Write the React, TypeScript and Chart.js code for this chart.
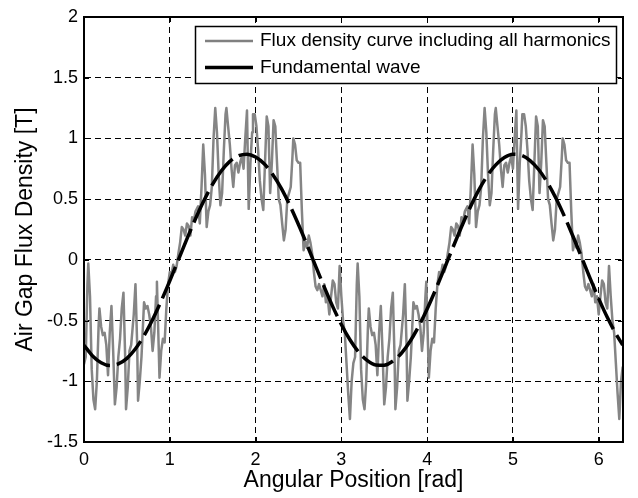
import React, { useEffect, useRef } from "react";
import { Chart, registerables } from "chart.js";

Chart.register(...registerables);

// Flux density curve including all harmonics (first period, 0..pi)
const angleA = [0.00,0.02,0.04,0.05,0.07,0.09,0.11,0.13,0.15,0.17,0.18,0.20,0.22,0.24,0.26,0.28,0.30,0.32,0.34,0.36,0.38,0.40,0.42,0.44,0.46,0.48,0.49,0.51,0.53,0.55,0.58,0.60,0.62,0.63,0.65,0.67,0.69,0.70,0.72,0.74,0.76,0.78,0.80,0.82,0.84,0.85,0.87,0.88,0.90,0.92,0.94,0.96,0.98,1.00,1.02,1.04,1.06,1.08,1.10,1.12,1.14,1.16,1.18,1.20,1.22,1.24,1.26,1.28,1.30,1.33,1.35,1.37,1.39,1.41,1.43,1.45,1.47,1.49,1.51,1.53,1.55,1.57,1.59,1.61,1.63,1.65,1.66,1.68,1.70,1.72,1.74,1.76,1.78,1.80,1.82,1.84,1.86,1.88,1.90,1.92,1.94,1.96,1.97,1.99,2.01,2.03,2.05,2.07,2.09,2.11,2.13,2.15,2.17,2.19,2.21,2.23,2.25,2.27,2.29,2.31,2.33,2.35,2.37,2.39,2.41,2.43,2.44,2.46,2.48,2.50,2.52,2.54,2.56,2.58,2.60,2.62,2.64,2.66,2.68,2.70,2.72,2.74,2.76,2.78,2.80,2.82,2.84,2.86,2.88,2.90,2.92,2.94,2.96,2.98,3.00,3.02,3.04,3.06,3.08,3.10,3.12,3.14];
const fluxA = [-0.86,-0.80,-0.20,-0.03,-0.30,-0.90,-1.15,-1.23,-1.00,-0.55,-0.40,-0.55,-0.62,-0.60,-0.70,-0.95,-0.60,-0.38,-0.75,-1.19,-1.05,-0.80,-0.65,-0.40,-0.27,-0.80,-1.23,-1.05,-0.75,-0.70,-0.45,-0.20,-0.70,-1.16,-1.00,-0.80,-0.50,-0.35,-0.40,-0.38,-0.45,-0.55,-0.75,-0.60,-0.30,-0.18,-0.70,-0.97,-0.75,-0.65,-0.68,-0.40,-0.20,-0.10,-0.12,-0.04,-0.10,-0.05,0.05,0.14,0.27,0.25,0.20,0.30,0.28,0.20,0.35,0.32,0.40,0.44,0.30,0.60,0.95,0.70,0.27,0.40,0.45,0.60,1.00,1.25,1.05,0.70,0.45,0.55,0.90,1.20,1.25,1.10,0.95,0.75,0.60,0.78,0.80,0.72,0.80,0.85,0.75,1.00,1.23,0.42,0.80,1.05,1.20,1.20,1.10,0.90,0.65,0.50,0.41,0.80,1.18,1.10,0.55,0.80,1.15,1.10,0.80,0.50,0.45,0.30,0.16,0.25,0.50,0.55,0.60,0.85,1.00,0.95,0.82,0.80,0.80,0.40,0.08,0.15,0.10,0.20,0.14,0.05,-0.10,-0.22,-0.25,-0.20,-0.25,-0.30,-0.20,-0.35,-0.30,-0.45,-0.30,-0.17,-0.20,-0.35,-0.40,-0.05,-0.30,-0.50,-0.60,-0.85,-1.10,-1.31,-1.00,-0.85];

// second period (pi..2pi)
const angleB = [3.16,3.18,3.19,3.21,3.23,3.25,3.27,3.29,3.31,3.32,3.34,3.36,3.38,3.40,3.42,3.44,3.46,3.48,3.50,3.52,3.54,3.56,3.58,3.60,3.62,3.63,3.65,3.67,3.69,3.72,3.74,3.76,3.77,3.79,3.81,3.83,3.84,3.86,3.88,3.90,3.92,3.94,3.96,3.98,3.99,4.01,4.02,4.04,4.06,4.08,4.10,4.12,4.14,4.16,4.18,4.20,4.22,4.24,4.26,4.28,4.30,4.32,4.34,4.36,4.38,4.40,4.42,4.44,4.47,4.49,4.51,4.53,4.55,4.57,4.59,4.61,4.63,4.65,4.67,4.69,4.71,4.73,4.75,4.77,4.79,4.80,4.82,4.84,4.86,4.88,4.90,4.92,4.94,4.96,4.98,5.00,5.02,5.04,5.06,5.08,5.10,5.11,5.13,5.15,5.17,5.19,5.21,5.23,5.25,5.27,5.29,5.31,5.33,5.35,5.37,5.39,5.41,5.43,5.45,5.47,5.49,5.51,5.53,5.55,5.57,5.58,5.60,5.62,5.64,5.66,5.68,5.70,5.72,5.74,5.76,5.78,5.80,5.82,5.84,5.86,5.88,5.90,5.92,5.94,5.96,5.98,6.00,6.02,6.04,6.06,6.08,6.10,6.12,6.14,6.16,6.18,6.20,6.22,6.24,6.26,6.28];
const fluxB = [-0.80,-0.20,-0.03,-0.30,-0.90,-1.15,-1.23,-1.00,-0.55,-0.40,-0.55,-0.62,-0.60,-0.70,-0.95,-0.60,-0.38,-0.75,-1.19,-1.05,-0.80,-0.65,-0.40,-0.27,-0.80,-1.23,-1.05,-0.75,-0.70,-0.45,-0.20,-0.70,-1.16,-1.00,-0.80,-0.50,-0.35,-0.40,-0.38,-0.45,-0.55,-0.75,-0.60,-0.30,-0.18,-0.70,-0.97,-0.75,-0.65,-0.68,-0.40,-0.20,-0.10,-0.12,-0.04,-0.10,-0.05,0.05,0.14,0.27,0.25,0.20,0.30,0.28,0.20,0.35,0.32,0.40,0.44,0.30,0.60,0.95,0.70,0.27,0.40,0.45,0.60,1.00,1.25,1.05,0.70,0.45,0.55,0.90,1.20,1.25,1.10,0.95,0.75,0.60,0.78,0.80,0.72,0.80,0.85,0.75,1.00,1.23,0.42,0.80,1.05,1.20,1.20,1.10,0.90,0.65,0.50,0.41,0.80,1.18,1.10,0.55,0.80,1.15,1.10,0.80,0.50,0.45,0.30,0.16,0.25,0.50,0.55,0.60,0.85,1.00,0.95,0.82,0.80,0.80,0.40,0.08,0.15,0.10,0.20,0.14,0.05,-0.10,-0.22,-0.25,-0.20,-0.25,-0.30,-0.20,-0.35,-0.30,-0.45,-0.30,-0.17,-0.20,-0.35,-0.40,-0.05,-0.30,-0.50,-0.60,-0.85,-1.10,-1.31,-1.00,-0.88];

// Fundamental wave
const angleFund = [0.0,0.1,0.2,0.3,0.4,0.5,0.6,0.7,0.8,0.9,1.0,1.1,1.2,1.3,1.4,1.5,1.6,1.7,1.8,1.9,2.0,2.1,2.2,2.3,2.4,2.5,2.6,2.7,2.8,2.9,3.0,3.1,3.2,3.3,3.4,3.5,3.6,3.7,3.8,3.9,4.0,4.1,4.2,4.3,4.4,4.5,4.6,4.7,4.8,4.9,5.0,5.1,5.2,5.3,5.4,5.5,5.6,5.7,5.8,5.9,6.0,6.1,6.2,6.28];
const fluxFund = [-0.703,-0.791,-0.847,-0.870,-0.857,-0.811,-0.732,-0.624,-0.491,-0.339,-0.173,0.0,0.173,0.339,0.491,0.624,0.732,0.811,0.857,0.870,0.847,0.791,0.703,0.588,0.448,0.291,0.123,-0.051,-0.222,-0.385,-0.532,-0.658,-0.758,-0.828,-0.865,-0.867,-0.834,-0.769,-0.672,-0.549,-0.404,-0.243,-0.072,0.101,0.271,0.430,0.572,0.691,0.782,0.842,0.869,0.861,0.818,0.744,0.639,0.509,0.359,0.194,0.022,-0.152,-0.319,-0.473,-0.609,-0.701];

const legendLabels = ["Flux density curve including all harmonics", "Fundamental wave"];
const xTitle = "Angular Position [rad]";
const yTitle = "Air Gap Flux Density [T]";

const FONT = "'Liberation Sans', Arial, sans-serif";

const framePlugin = {
  id: "frameAndLegend",
  afterDraw(chart: any) {
    const { ctx, chartArea: a, scales } = chart;
    ctx.save();
    ctx.setLineDash([]);
    ctx.strokeStyle = "#000";
    ctx.lineWidth = 1;
    const tl = 5;
    ctx.beginPath();
    scales.x.ticks.forEach((t: any) => {
      const px = Math.round(scales.x.getPixelForValue(t.value)) + 0.5;
      ctx.moveTo(px, a.bottom); ctx.lineTo(px, a.bottom - tl);
      ctx.moveTo(px, a.top); ctx.lineTo(px, a.top + tl);
    });
    scales.y.ticks.forEach((t: any) => {
      const py = Math.round(scales.y.getPixelForValue(t.value)) + 0.5;
      ctx.moveTo(a.left, py); ctx.lineTo(a.left + tl, py);
      ctx.moveTo(a.right, py); ctx.lineTo(a.right - tl, py);
    });
    ctx.stroke();
    ctx.lineWidth = 2;
    ctx.strokeRect(a.left, a.top, a.right - a.left, a.bottom - a.top);
    const lx = 195, ly = 26, lw = 421, lh = 57;
    ctx.fillStyle = "#fff";
    ctx.fillRect(lx, ly, lw, lh);
    ctx.lineWidth = 1.5;
    ctx.strokeRect(lx + 0.5, ly + 0.5, lw, lh);
    ctx.lineWidth = 2.5;
    ctx.strokeStyle = "#808080";
    ctx.beginPath(); ctx.moveTo(205, 41); ctx.lineTo(253, 41); ctx.stroke();
    ctx.lineWidth = 3.5;
    ctx.strokeStyle = "#000";
    ctx.beginPath(); ctx.moveTo(205, 67.5); ctx.lineTo(253, 67.5); ctx.stroke();
    ctx.fillStyle = "#000";
    ctx.font = `19px ${FONT}`;
    ctx.textBaseline = "middle";
    ctx.textAlign = "left";
    ctx.fillText(legendLabels[0], 260, 41);
    ctx.fillText(legendLabels[1], 260, 68);
    ctx.restore();
  },
};

export default function App() {
  const ref = useRef<HTMLCanvasElement | null>(null);
  useEffect(() => {
    document.body.style.margin = "0";
    const canvas = ref.current!;
    const chart = new Chart(canvas, {
      type: "line",
      data: {
        datasets: [
          {
            label: legendLabels[0],
            data: angleA.map((x, i) => ({ x, y: fluxA[i] })).concat(angleB.map((x, i) => ({ x, y: fluxB[i] }))),
            borderColor: "#858585",
            borderWidth: 2.5,
            pointRadius: 0,
            tension: 0,
            borderJoinStyle: "round",
            order: 2,
          },
          {
            label: legendLabels[1],
            data: angleFund.map((x, i) => ({ x, y: fluxFund[i] })),
            borderColor: "#000",
            borderWidth: 3.5,
            borderDash: [34, 7],
            pointRadius: 0,
            tension: 0.4,
            cubicInterpolationMode: "monotone",
            order: 1,
          },
        ],
      },
      options: {
        animation: false,
        responsive: false,
        layout: { padding: { top: 17, right: 15, left: 0, bottom: 0 } },
        plugins: { legend: { display: false }, tooltip: { enabled: false } },
        scales: {
          x: {
            type: "linear",
            min: 0,
            max: 6.2832,
            afterFit: (s: any) => { s.height = 56; },
            ticks: {
              stepSize: 1,
              includeBounds: false,
              color: "#000",
              font: { family: FONT, size: 18 },
              padding: 7,
              maxRotation: 0,
              callback: (v: any) => String(v),
            },
            grid: { color: "#000", lineWidth: 1, drawTicks: false },
            border: { display: true, color: "#000", dash: [6, 4] },
            title: { display: true, text: xTitle, color: "#000", font: { family: FONT, size: 23 }, padding: { top: 0, bottom: 4 } },
          },
          y: {
            type: "linear",
            min: -1.5,
            max: 2,
            afterFit: (s: any) => { s.width = 84; },
            ticks: {
              stepSize: 0.5,
              color: "#000",
              font: { family: FONT, size: 18 },
              padding: 6,
              callback: (v: any) => String(v),
            },
            grid: { color: "#000", lineWidth: 1, drawTicks: false },
            border: { display: true, color: "#000", dash: [6, 4] },
            title: { display: true, text: yTitle, color: "#000", font: { family: FONT, size: 23 }, padding: { top: 12, bottom: 0 } },
          },
        },
      },
      plugins: [framePlugin],
    } as any);
    return () => chart.destroy();
  }, []);
  return <canvas ref={ref} width={638} height={498} style={{ display: "block" }} />;
}
